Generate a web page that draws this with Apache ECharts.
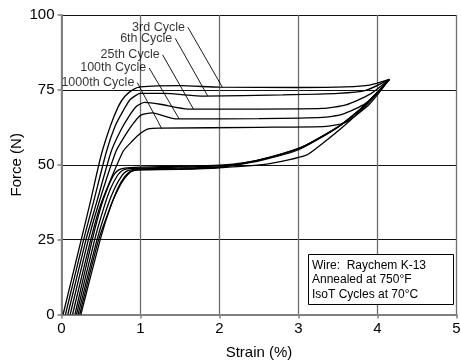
<!DOCTYPE html>
<html>
<head>
<meta charset="utf-8">
<script src="https://cdn.jsdelivr.net/npm/echarts@6/dist/echarts.min.js"></script>
<style>
  html, body { margin: 0; padding: 0; background: #fff; }
  #chart { width: 461px; height: 364px; }
</style>
</head>
<body>
<div id="chart"></div>
<script>
// 加载曲线 (上支), [strain %, force N]
const load3 = [[0.02, 0], [0.25, 25], [0.36, 37], [0.5, 53], [0.62, 63], [0.72, 69.5], [0.8, 72.8], [0.9, 75], [1.0, 76], [1.5, 76.4], [2.0, 75.9], [3.0, 75.8], [3.6, 76], [3.9, 76.6], [4.15, 78.5]]
const load6 = [[0.05, 0], [0.28, 25], [0.4, 37], [0.57, 54.5], [0.68, 63], [0.78, 68], [0.87, 71.8], [1.0, 73.8], [1.3, 73.8], [1.8, 72.9], [2.8, 73.3], [3.5, 73.8], [3.85, 74.8], [4.15, 78.5]]
const load25 = [[0.08, 0], [0.31, 25], [0.44, 37], [0.63, 54.5], [0.75, 61.5], [0.85, 66], [0.95, 69.5], [1.05, 70.8], [1.25, 70.2], [1.6, 68.6], [2.5, 68.6], [3.3, 68.8], [3.6, 70], [3.9, 73.5], [4.15, 78.5]]
const load100 = [[0.11, 0], [0.34, 25], [0.47, 37], [0.69, 54.5], [0.81, 60], [0.9, 63.5], [1.0, 66.5], [1.15, 67.3], [1.44, 65.3], [2.5, 65.4], [3.3, 65.8], [3.55, 66.8], [3.85, 70.5], [4.15, 78.5]]
const load1000 = [[0.14, 0], [0.37, 25], [0.5, 37], [0.78, 54.5], [0.9, 58], [1.0, 60.5], [1.1, 62], [1.25, 62.2], [2.5, 62.5], [3.35, 62.8], [3.6, 64.2], [3.9, 70.3], [4.15, 78.5]]

// 卸载曲线 (下支)
const unload3 = [[4.15, 78.5], [3.88, 71], [3.55, 63.5], [3.1, 56.6], [2.65, 52.6], [2.3, 50.6], [2.0, 49.9], [1.5, 49.5], [1.0, 49.2], [0.8, 48.9], [0.72, 48.2], [0.66, 46.5], [0.58, 42], [0.5, 36], [0.39, 25], [0.17, 0]]
const unload6 = [[4.15, 78.5], [3.86, 70.4], [3.52, 63], [3.05, 56], [2.6, 52.2], [2.25, 50.3], [2.0, 49.6], [1.5, 49.2], [1.0, 48.9], [0.85, 48.7], [0.77, 48.1], [0.71, 46.5], [0.62, 42], [0.54, 36], [0.42, 25], [0.19, 0]]
const unload25 = [[4.15, 78.5], [3.85, 70], [3.5, 62.6], [3.02, 55.5], [2.55, 51.8], [2.2, 50], [2.0, 49.3], [1.5, 48.9], [1.0, 48.6], [0.9, 48.4], [0.82, 47.8], [0.76, 46.2], [0.67, 42], [0.58, 36], [0.45, 25], [0.21, 0]]
const unload100 = [[4.15, 78.5], [3.84, 69.7], [3.48, 62.2], [3.0, 55], [2.5, 51.3], [2.15, 49.7], [2.0, 49.1], [1.5, 48.6], [1.0, 48.4], [0.95, 48.3], [0.87, 47.7], [0.8, 46], [0.71, 42], [0.62, 36], [0.47, 25], [0.23, 0]]
const unload1000 = [[4.15, 78.5], [3.9, 71], [3.6, 63.5], [3.3, 57], [3.1, 53.2], [2.64, 50.4], [2.0, 49], [1.5, 48.5], [1.0, 48.3], [0.92, 48.1], [0.87, 47.5], [0.8, 45.5], [0.72, 42], [0.62, 36], [0.49, 25], [0.245, 0]]

// 标注文字及引线 (起点, 终点)
const cycleNames = ['3rd Cycle', '6th Cycle', '25th Cycle', '100th Cycle', '1000th Cycle']
const leaderFrom = [[1.6, 95.9], [1.44, 92.2], [1.28, 86.7], [1.11, 82.3], [0.96, 77.4]]
const leaderTo = [[2.04, 75.7], [1.85, 73], [1.67, 68.6], [1.49, 65.3], [1.27, 62]]

const noteLines = ['Wire:  Raychem K-13', 'Annealed at 750°F', 'IsoT Cycles at 70°C']

const font = 'Liberation Sans, Arial, Helvetica, sans-serif'

const curves = [load3, load6, load25, load100, load1000, unload3, unload6, unload25, unload100, unload1000]

const curveSeries = curves.map((d) => ({
  type: 'line',
  data: d,
  showSymbol: false,
  smooth: 0.2,
  lineStyle: { color: '#000', width: 1.3 },
  silent: true,
}))

const leaderSeries = leaderFrom.map((p, i) => ({
  type: 'line',
  data: [p, leaderTo[i]],
  showSymbol: false,
  lineStyle: { color: '#000', width: 0.9 },
  silent: true,
}))

const labelSeries = {
  type: 'scatter',
  symbolSize: 0,
  data: leaderFrom.map((p, i) => ({ value: p, name: cycleNames[i] })),
  label: {
    show: true,
    position: 'left',
    distance: 3,
    formatter: (p) => p.name,
    color: '#000',
    fontFamily: font,
    fontSize: 12.5,
  },
  silent: true,
}

const chart = echarts.init(document.getElementById('chart'))
chart.setOption({
  animation: false,
  grid: { left: 61.5, right: 4.5, top: 15, bottom: 49.5, containLabel: false, outerBoundsMode: 'none' },
  xAxis: {
    type: 'value',
    min: 0,
    max: 5,
    interval: 1,
    name: 'Strain (%)',
    nameLocation: 'middle',
    nameGap: 31,
    nameMoveOverlap: false,
    nameTextStyle: { color: '#000', fontFamily: font, fontSize: 15 },
    axisLine: { lineStyle: { color: '#808080', width: 2 } },
    axisTick: { show: true, length: 4, lineStyle: { color: '#808080', width: 1.5 } },
    axisLabel: { color: '#000', fontFamily: font, fontSize: 15, margin: 7 },
    splitLine: { show: true, lineStyle: { color: '#6e6e6e', width: 1.3 } },
  },
  yAxis: {
    type: 'value',
    min: 0,
    max: 100,
    interval: 25,
    name: 'Force (N)',
    nameLocation: 'middle',
    nameGap: 37,
    nameMoveOverlap: false,
    nameTextStyle: { color: '#000', fontFamily: font, fontSize: 15 },
    axisLine: { show: true, lineStyle: { color: '#808080', width: 2 } },
    axisTick: { show: true, length: 4, lineStyle: { color: '#808080', width: 1.5 } },
    axisLabel: { color: '#000', fontFamily: font, fontSize: 15, margin: 7 },
    splitLine: { show: true, lineStyle: { color: '#111', width: 1 } },
  },
  graphic: [
    {
      type: 'rect',
      shape: { x: 308.5, y: 254.5, width: 145, height: 50 },
      style: { fill: '#fff', stroke: '#000', lineWidth: 1 },
      z: 10,
    },
    {
      type: 'text',
      x: 312,
      y: 258,
      style: {
        text: noteLines.join('\n'),
        fill: '#000',
        font: '12px ' + font,
        lineHeight: 14.5,
      },
      z: 11,
    },
  ],
  series: [...curveSeries, ...leaderSeries, labelSeries],
})
</script>
</body>
</html>
